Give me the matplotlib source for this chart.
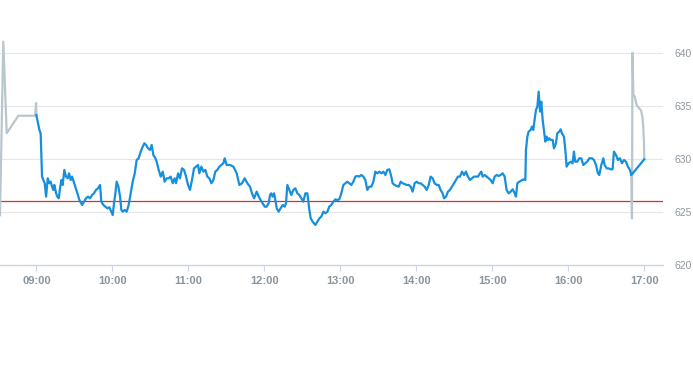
import matplotlib
matplotlib.use("Agg")
import matplotlib.pyplot as plt

plt.rcParams['font.family'] = ['Liberation Sans', 'DejaVu Sans']

# times are minutes after 09:00
pre_t = [-28.7, -26.1, -23.4, -14.2, -1.0, -0.2, 0.0]
pre_p = [624.7, 641.1, 632.45, 634.1, 634.1, 635.3, 634.17]

day_t = [
    0.0, 0.8, 2.4, 3.4, 4.5, 5.5, 6.6, 7.7, 9.0, 10.3, 11.3, 12.4, 13.4, 14.2,
    15.6, 16.6, 17.7, 18.7, 19.8, 20.8, 22.1, 23.4, 24.8, 25.8, 27.1, 28.2,
    29.5, 30.8, 32.4, 34.0, 36.1, 37.7, 39.2, 40.8, 42.4, 44.0, 45.5, 47.1,
    48.7, 50.3, 51.3, 52.9, 54.5, 56.1, 57.7, 59.2, 60.3, 61.3, 62.4, 63.4,
    64.8, 66.1, 67.1, 68.2, 69.8, 71.3, 72.9, 74.5, 76.1, 77.7, 79.2, 80.8,
    82.4, 84.0, 85.3, 86.6, 88.2, 89.8, 91.1, 92.4, 94.0, 95.0, 96.6, 98.2,
    99.8, 101.3, 102.9, 104.5, 106.1, 107.7, 109.2, 110.3, 111.9, 113.4,
    115.0, 116.6, 118.2, 119.8, 121.3, 122.9, 124.5, 126.1, 127.7, 128.7,
    130.3, 131.9, 133.5, 135.0, 136.6, 138.2, 139.8, 141.3, 142.9, 144.5,
    146.1, 147.7, 148.7, 150.3, 152.9,
    155.6, 158.2, 160.3, 162.4, 164.5, 166.6, 168.7, 170.3, 171.9, 174.0,
    175.6, 177.1, 178.7, 180.3, 181.9, 183.4, 184.5, 185.5, 186.6, 187.7,
    188.7, 189.8, 191.3, 192.9, 194.5, 196.1, 197.1, 198.2, 199.8, 201.3,
    202.9, 204.5, 206.1, 207.7, 209.2, 210.8, 212.4, 214.0, 215.6, 216.6,
    218.2, 220.3, 221.9, 223.5, 225.0, 226.6, 228.2, 229.8, 231.3, 232.9,
    234.5, 236.1, 237.7, 239.2, 240.8, 242.4, 244.0, 245.6, 247.1, 248.7,
    250.3, 251.9, 253.4, 255.0, 256.6, 258.2, 259.8, 261.3, 262.9, 264.5,
    266.1, 267.7, 269.2, 270.8, 272.4, 274.0, 275.6, 277.1, 278.7, 280.3,
    281.3, 282.9, 284.5, 286.1, 287.7, 289.2, 290.8, 292.4, 294.0, 295.6,
    297.1, 298.7, 300.3, 301.9, 303.4, 305.0, 306.6, 308.2, 309.8, 311.3,
    312.9, 314.5, 316.1, 317.7, 319.2, 320.8, 321.9, 323.5, 325.0, 326.6,
    328.2, 329.8, 331.3, 332.9, 334.5,
    336.1, 337.7, 339.2, 340.8, 342.4, 344.0, 345.6, 347.1, 348.7, 350.3,
    351.3, 352.4, 354.0, 355.6, 357.1, 358.7, 360.3, 361.9, 363.4, 365.0,
    366.6, 368.2, 369.8, 371.3, 372.9, 374.5, 376.1, 377.7, 378.7, 379.8,
    381.3, 382.9, 384.5, 386.1, 386.6, 387.7, 388.7, 390.3, 391.3, 392.4,
    393.4, 394.5, 395.6, 396.6, 397.7, 398.7, 399.8, 400.8, 401.9, 402.9,
    404.0, 405.0, 406.1, 407.7, 408.7, 410.3, 411.3, 412.9, 414.0, 415.0,
    416.6, 417.7, 418.7, 420.3, 421.9, 423.4, 424.5, 425.5, 427.1, 428.7,
    430.3, 431.9, 433.4, 435.0, 436.6, 438.7, 440.3, 441.9, 443.4, 444.5,
    446.1, 447.7, 448.7, 450.3, 451.9, 453.4, 455.0, 456.1, 457.7, 459.2,
    460.8, 462.4, 464.0, 465.6, 467.1, 468.7, 469.8, 480.0,
]
day_p = [
    634.17, 633.70, 632.76, 632.44, 628.35, 628.03, 627.72, 626.46, 628.19,
    627.72, 627.87, 627.40, 627.09, 627.56, 626.77, 626.46, 626.30, 627.24,
    628.03, 627.56, 628.98, 628.35, 628.19, 628.66, 628.03, 628.35, 627.87,
    627.40, 626.77, 626.14, 625.67, 625.98, 626.30, 626.46, 626.30, 626.61,
    626.77, 627.09, 627.24, 627.56, 625.98, 625.67, 625.51, 625.35, 625.45,
    625.04, 624.72, 625.83, 626.77, 627.87, 627.40, 626.46, 625.20, 625.04,
    625.20, 625.04, 625.67, 626.77, 627.87, 628.66, 629.92, 630.08, 630.71,
    631.18, 631.50, 631.34, 631.02, 630.87, 631.34, 630.39, 630.08, 629.76,
    628.98, 628.35, 628.82, 627.87, 628.19, 628.19, 628.35, 627.72, 628.19,
    627.72, 628.66, 628.19, 629.13, 628.98, 628.35, 627.56, 627.09, 628.03,
    629.13, 629.29, 629.45, 628.66, 629.29, 628.82, 628.98, 628.35, 628.19,
    627.72, 628.03, 628.82, 628.98, 629.29, 629.45, 629.61, 630.08, 629.45,
    629.45,
    629.29, 628.66, 627.56, 627.72, 628.19, 627.72, 627.40, 626.77, 626.30,
    626.93, 626.46, 626.14, 625.83, 625.51, 625.51, 625.83, 626.61, 626.77,
    626.46, 626.77, 626.14, 625.35, 625.04, 625.35, 625.67, 625.51, 625.83,
    627.56, 627.09, 626.61, 627.09, 627.24, 626.77, 626.61, 626.30, 625.98,
    626.77, 626.77, 625.20, 624.41, 624.09, 623.78, 624.09, 624.41, 624.57,
    625.04, 624.88, 625.04, 625.51, 625.67, 625.98, 626.20, 626.14, 626.20,
    626.77, 627.56, 627.72, 627.87, 627.72, 627.56, 627.87, 628.35, 628.41,
    628.35, 628.50, 628.35, 628.03, 627.09, 627.40, 627.40, 627.87, 628.82,
    628.66, 628.82, 628.66, 628.82, 628.50, 628.98, 629.04, 628.35, 627.72,
    627.56, 627.46, 627.40, 627.87, 627.72, 627.65, 627.56, 627.56, 627.40,
    626.93, 627.72, 627.87, 627.72, 627.72, 627.56, 627.40, 627.09, 627.56,
    628.35, 628.19, 627.72, 627.56, 627.56, 627.09, 626.77, 626.30, 626.46,
    626.93, 627.09, 627.40, 627.72, 628.03, 628.35, 628.35,
    628.82, 628.50, 628.82, 628.35, 628.03, 628.19, 628.35, 628.35, 628.35,
    628.66, 628.82, 628.35, 628.50, 628.35, 628.19, 628.03, 627.72, 628.35,
    628.50, 628.41, 628.50, 628.66, 628.35, 627.09, 626.77, 626.93, 627.15,
    626.77, 626.46, 627.72, 627.87, 627.97, 628.09, 628.03, 630.87, 632.13,
    632.60, 632.76, 633.07, 632.76, 633.70, 634.65, 634.96, 636.38, 634.49,
    635.43, 633.70, 632.76, 631.66, 632.13, 631.81, 631.97, 631.81, 631.81,
    631.02, 631.50, 632.44, 632.60, 632.82, 632.44, 632.13, 630.87, 629.29,
    629.61, 629.76, 629.61, 630.71, 629.76, 629.76, 630.08, 630.08, 629.45,
    629.61, 629.76, 630.08, 630.08, 629.92, 629.45, 628.66, 628.50, 629.45,
    630.08, 629.45, 629.13, 629.13, 629.04, 629.04, 630.71, 630.39, 629.92,
    630.08, 629.61, 629.92, 629.76, 629.29, 628.98, 628.50, 629.98,
]

post_t = [469.8, 470.3, 470.7, 471.4, 472.5, 474.0, 476.0, 477.5, 478.5, 479.2, 479.8, 480.0]
post_p = [628.50, 624.4, 640.05, 636.1, 635.9, 635.1, 634.8, 634.6, 634.0, 633.1, 631.5, 630.0]

ref_price = 626.0
y_ticks = [620, 625, 630, 635, 640]
x_ticks = [0, 60, 120, 180, 240, 300, 360, 420, 480]
x_labels = ["09:00", "10:00", "11:00", "12:00", "13:00", "14:00", "15:00", "16:00", "17:00"]

fig = plt.figure(figsize=(6.93, 3.65), dpi=100)
ax = fig.add_axes([0.0, 0.274, 0.9567, 0.667])

ax.plot(pre_t, pre_p, color="#bac6ce", lw=1.6, zorder=3, solid_joinstyle="round")
ax.plot(post_t, post_p, color="#bac6ce", lw=1.6, zorder=3, solid_joinstyle="round")
ax.axhline(ref_price, color="#d9302c", lw=0.9, zorder=2)
ax.plot(day_t, day_p, color="#168fdc", lw=1.6, zorder=4, solid_joinstyle="round")

ax.set_xlim(-28.7, 494.8)
ax.set_ylim(620, 643)

for s in ["top", "left", "right"]:
    ax.spines[s].set_visible(False)
ax.spines["bottom"].set_color("#ccd6eb")
ax.spines["bottom"].set_linewidth(1)

ax.set_yticks(y_ticks)
ax.set_yticklabels([str(v) for v in y_ticks])
ax.yaxis.tick_right()
ax.tick_params(axis="y", length=0, pad=8, labelsize=7.5, labelcolor="#8f989f")
ax.grid(axis="y", color="#e6e6e6", lw=0.8, zorder=0)

ax.set_xticks(x_ticks)
ax.set_xticklabels(x_labels, fontweight="bold")
ax.tick_params(axis="x", length=4, width=0.8, color="#ccd6eb", pad=4,
               labelsize=8, labelcolor="#8a949c")

fig.savefig("out.png", dpi=100)
